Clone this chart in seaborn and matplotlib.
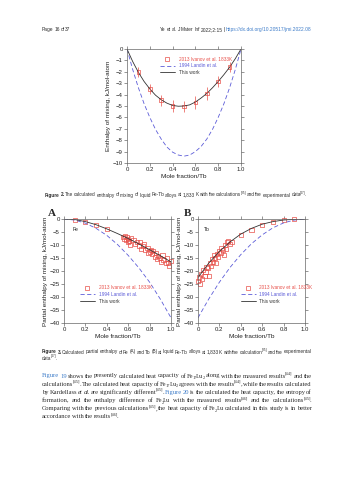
import matplotlib
matplotlib.use("Agg")
import matplotlib.pyplot as plt
import seaborn as sns
import pandas as pd
from matplotlib.lines import Line2D

# ---- Figure 2: enthalpy of mixing ----
mix_x = [0.0, 0.05, 0.1, 0.15, 0.2, 0.25, 0.3, 0.35, 0.4, 0.45, 0.5,
         0.55, 0.6, 0.65, 0.7, 0.75, 0.8, 0.85, 0.9, 0.95, 1.0]
mix_this = [0.0, -1.1, -2.05, -2.85, -3.5, -4.05, -4.45, -4.75, -4.95, -5.02, -5.0,
            -4.9, -4.65, -4.3, -3.9, -3.4, -2.85, -2.25, -1.6, -0.85, 0.0]
mix_landin = [0.0, -1.8, -3.4, -4.8, -6.0, -7.05, -7.9, -8.6, -9.05, -9.3, -9.4,
              -9.3, -9.0, -8.55, -7.9, -7.05, -6.0, -4.8, -3.4, -1.8, 0.0]
mix_exp_x = [0.1, 0.2, 0.3, 0.4, 0.5, 0.6, 0.7, 0.8, 0.9]
mix_exp_y = [-2.0, -3.5, -4.5, -5.0, -5.05, -4.7, -3.9, -2.85, -1.6]
mix_exp_err = [0.45, 0.45, 0.5, 0.5, 0.5, 0.55, 0.55, 0.5, 0.45]

# ---- Figure 3: partial enthalpies ----
part_x = [0.0, 0.1, 0.2, 0.3, 0.4, 0.5, 0.6, 0.7, 0.8, 0.9, 1.0]
fe_this = [0.0, -0.2, -1.0, -2.2, -3.8, -5.6, -7.5, -9.6, -11.8, -14.1, -16.5]
fe_landin = [0.0, -0.4, -1.6, -3.6, -6.3, -9.8, -14.0, -18.8, -24.3, -30.8, -38.0]
tb_this = [-22.5, -17.0, -12.5, -8.8, -5.8, -3.6, -2.0, -1.0, -0.4, -0.1, 0.0]
tb_landin = [-38.0, -30.8, -24.3, -18.6, -13.7, -9.5, -6.1, -3.4, -1.5, -0.4, 0.0]

fe_exp_x = [0.10, 0.20, 0.30, 0.40, 0.55, 0.56, 0.57, 0.58, 0.59, 0.60, 0.60, 0.61,
            0.62, 0.63, 0.65, 0.66, 0.68, 0.70, 0.71, 0.72, 0.74, 0.75, 0.76, 0.78,
            0.79, 0.80, 0.81, 0.82, 0.83, 0.85, 0.86, 0.87, 0.88, 0.90, 0.91, 0.92,
            0.93, 0.95, 0.96, 0.97, 0.98, 1.00]
fe_exp_y = [-0.4, -1.0, -2.4, -4.0, -6.8, -7.5, -6.5, -8.2, -7.0, -9.0, -7.8, -8.5,
            -10.0, -7.2, -8.0, -9.5, -8.8, -10.2, -9.0, -11.5, -10.5, -9.8, -12.0, -11.0,
            -13.0, -12.5, -11.8, -13.5, -12.2, -14.5, -13.0, -15.5, -14.2, -15.0, -16.5, -14.0,
            -15.8, -17.0, -15.2, -16.8, -18.0, -16.0]
tb_exp_x = [0.00, 0.01, 0.02, 0.03, 0.04, 0.05, 0.06, 0.07, 0.08, 0.09, 0.10, 0.11,
            0.12, 0.13, 0.14, 0.15, 0.16, 0.17, 0.18, 0.19, 0.20, 0.21, 0.22, 0.23,
            0.24, 0.25, 0.26, 0.27, 0.28, 0.30, 0.32, 0.40, 0.50, 0.60, 0.70, 0.80, 0.90]
tb_exp_y = [-24.0, -22.5, -25.0, -21.0, -23.0, -19.5, -22.0, -20.5, -18.5, -19.0, -22.0, -17.0,
            -18.0, -15.5, -16.5, -14.0, -15.0, -17.0, -13.5, -14.5, -12.5, -13.0, -11.0, -12.0,
            -14.0, -10.0, -11.5, -9.0, -8.5, -9.5, -8.8, -6.3, -4.2, -2.3, -1.2, -0.4, -0.1]

RED = "#e8504a"
BLUE = "#5c5cd8"
DARK = "#333333"
TXT = "#2e2e2e"
LINK = "#3d7cc9"

sns.set_theme(style="ticks")
plt.rcParams["font.family"] = ["Liberation Sans", "DejaVu Sans"]

fig = plt.figure(figsize=(3.53, 4.8), dpi=100)
fig.patch.set_facecolor("white")
W, H = 353.0, 480.0


def ax_box(left, top, right, bottom):
    return [left / W, 1 - bottom / H, (right - left) / W, (bottom - top) / H]


def style_ax(ax, xlabel, ylabel, yticks):
    ax.set_xlim(0, 1)
    ax.set_xticks([0, 0.2, 0.4, 0.6, 0.8, 1.0])
    ax.set_xticklabels(["0", "0.2", "0.4", "0.6", "0.8", "1.0"])
    ax.set_yticks(yticks)
    ax.set_ylim(min(yticks), max(yticks))
    ax.tick_params(axis="both", which="both", direction="out", length=2, width=0.4,
                   labelsize=4.3, pad=1, colors="#444444", labelcolor="#222222",
                   top=True, right=True, labeltop=False, labelright=False)
    for s in ax.spines.values():
        s.set_visible(True)
        s.set_linewidth(0.5)
        s.set_color("#666666")
    ax.set_xlabel(xlabel, fontsize=4.6, labelpad=1.5, color="#222222")
    ax.set_ylabel(ylabel, fontsize=4.6, labelpad=1.5, color="#222222")
    ax.set_facecolor("white")


def add_legend(ax, anchor):
    handles = [
        Line2D([], [], marker="s", markerfacecolor="none", markeredgecolor=RED,
               markersize=2.5, markeredgewidth=0.5, linestyle="none"),
        Line2D([], [], color=BLUE, linestyle=(0, (5, 3)), linewidth=0.6),
        Line2D([], [], color=DARK, linewidth=0.6),
    ]
    labels = ["2013 Ivanov et al. 1833K", "1994 Landin et al.", "This work"]
    ax.legend(handles, labels, loc="upper left", bbox_to_anchor=anchor, frameon=False,
              fontsize=3.4, handlelength=3.2, handletextpad=0.8, labelspacing=0.35,
              borderaxespad=0, labelcolor=[RED, BLUE, DARK])


# --- top chart ---
ax1 = fig.add_axes(ax_box(127, 49, 241, 163))
d_mix = pd.DataFrame({"x": mix_x, "this": mix_this, "landin": mix_landin})
sns.lineplot(data=d_mix, x="x", y="landin", ax=ax1, color=BLUE, linewidth=0.6,
             linestyle=(0, (5, 3)))
sns.lineplot(data=d_mix, x="x", y="this", ax=ax1, color=DARK, linewidth=0.6)
ax1.errorbar(mix_exp_x, mix_exp_y, yerr=mix_exp_err, fmt="none", ecolor=RED,
             elinewidth=0.5, capsize=0)
sns.scatterplot(x=mix_exp_x, y=mix_exp_y, ax=ax1, marker="s", s=7,
                facecolor="none", edgecolor=RED, linewidth=0.5)
style_ax(ax1, "Mole fraction/Tb", "Enthalpy of mixing, kJ/mol-atom", list(range(-10, 1)))
add_legend(ax1, (0.27, 0.95))

# --- panel A ---
axA = fig.add_axes(ax_box(64, 219, 171, 323))
d_fe = pd.DataFrame({"x": part_x, "this": fe_this, "landin": fe_landin})
sns.lineplot(data=d_fe, x="x", y="landin", ax=axA, color=BLUE, linewidth=0.6,
             linestyle=(0, (5, 3)))
sns.lineplot(data=d_fe, x="x", y="this", ax=axA, color=DARK, linewidth=0.6)
sns.scatterplot(x=fe_exp_x, y=fe_exp_y, ax=axA, marker="s", s=9,
                facecolor="none", edgecolor=RED, linewidth=0.5, clip_on=False)
style_ax(axA, "Mole fraction/Tb", "Partial enthalpy of mixing, kJ/mol-atom",
         list(range(-40, 1, 5)))
axA.text(0.08, -4.5, "Fe", fontsize=3.6, color="#222222")
add_legend(axA, (0.13, 0.38))

# --- panel B ---
axB = fig.add_axes(ax_box(198, 219, 305, 323))
d_tb = pd.DataFrame({"x": part_x, "this": tb_this, "landin": tb_landin})
sns.lineplot(data=d_tb, x="x", y="landin", ax=axB, color=BLUE, linewidth=0.6,
             linestyle=(0, (5, 3)))
sns.lineplot(data=d_tb, x="x", y="this", ax=axB, color=DARK, linewidth=0.6)
sns.scatterplot(x=tb_exp_x, y=tb_exp_y, ax=axB, marker="s", s=9,
                facecolor="none", edgecolor=RED, linewidth=0.5, clip_on=False)
style_ax(axB, "Mole fraction/Tb", "Partial enthalpy of mixing, kJ/mol-atom",
         list(range(-40, 1, 5)))
axB.text(0.06, -4.5, "Tb", fontsize=3.6, color="#222222")
add_legend(axB, (0.38, 0.38))

fig.text(52 / W, 1 - 214 / H, "A", fontsize=8, fontweight="bold",
         family="Liberation Serif", va="center", ha="center")
fig.text(187 / W, 1 - 214 / H, "B", fontsize=8, fontweight="bold",
         family="Liberation Serif", va="center", ha="center")

# ---- page text (runs placed word by word) ----
renderer = fig.canvas.get_renderer()
PX = 100 / 72.0
TRIM = 1.0  # measured extents run about 1 px wider than the drawn ink


def w(s, **st):
    return [(s, st)]


def words_of(s, **st):
    return [w(x, **st) for x in s.split(" ")]


def sup(base, ref, **st):
    return [(base, st), (ref, dict(st, sup=True))]


def make_runs(words, size, family):
    out = []
    for word in words:
        items = []
        for s, st in word:
            small = st.get("sup") or st.get("sub")
            sz = size * 0.68 if small else size
            dy = size * 0.45 * PX if st.get("sup") else (-size * 0.22 * PX if st.get("sub") else 0)
            t = fig.text(0, 0, s, fontsize=sz, color=st.get("color", TXT),
                         fontweight=st.get("weight", "normal"),
                         fontstyle=st.get("style", "normal"),
                         family=family, va="baseline", ha="left")
            width = max(0.6, t.get_window_extent(renderer).width - TRIM)
            items.append([t, width, dy])
        out.append(items)
    return out


def space_px(size, family):
    a = fig.text(0, 0, "x x", fontsize=size, family=family)
    b = fig.text(0, 0, "xx", fontsize=size, family=family)
    s = a.get_window_extent(renderer).width - b.get_window_extent(renderer).width
    a.remove()
    b.remove()
    return s


def natural_width(words, size, family):
    runs = make_runs(words, size, family)
    total = sum(sum(it[1] + 0.3 for it in wd) for wd in runs)
    for wd in runs:
        for it in wd:
            it[0].remove()
    return total + space_px(size, family) * (len(words) - 1)


def fit_size(words, size, family, target):
    return size * target / natural_width(words, size, family)


def place(words, x0, y, x1=None, size=4.0, family="Liberation Serif"):
    runs = make_runs(words, size, family)
    widths = [sum(it[1] + 0.3 for it in wd) for wd in runs]
    sp = space_px(size, family)
    gap = sp
    if x1 is not None and len(runs) > 1:
        gap = max(sp * 0.6, (x1 - x0 - sum(widths)) / (len(runs) - 1))
    x = x0
    for wd, ww in zip(runs, widths):
        xx = x
        for t, tw, dy in wd:
            t.set_position((xx / W, 1 - y / H + dy / H))
            xx += tw + 0.3
        x += ww + gap


SANS = "Liberation Sans"
SERIF = "Liberation Serif"

# header
hdr = [w("Ye"), w("et"), w("al."), w("J"), w("Mater"), w("Inf"), w("2022;2:15"), w("|"),
       w("https://dx.doi.org/10.20517/jmi.2022.08", color=LINK)]
hs = fit_size(hdr, 3.4, SANS, 311 - 160)
place(hdr, 160, 31, x1=311, size=hs, family=SANS)
place(words_of("Page 16 of 37"), 42, 31, size=hs, family=SANS)

# figure 2 caption
cap2 = (words_of("Figure 2.", weight="bold")
        + words_of("The calculated enthalpy of mixing of liquid Fe-Tb alloys at 1,833 K with the")
        + [sup("calculations", "[35]")] + words_of("and the experimental")
        + [sup("data", "[47]") + [(".", {})]])
cs = fit_size(cap2, 3.4, SANS, 305 - 45)
place(cap2, 45, 196.5, size=cs, family=SANS)

# figure 3 caption
cap3 = (words_of("Figure 3.", weight="bold")
        + words_of("Calculated partial enthalpy of Fe (A) and Tb (B) at liquid Fe-Tb alloys at 1,833 K with the")
        + [sup("calculation", "[35]")] + words_of("and the experimental"))
place(cap3, 42, 353.5, x1=311, size=cs, family=SANS)
place([sup("data", "[47]") + [(".", {})]], 42, 359.5, size=cs, family=SANS)

# body paragraph
L = dict(color=LINK)
body = [
    [w("Figure", **L), w("19", **L)] + words_of("shows the presently calculated heat capacity of")
    + [[("Fe", {}), ("17", {"sub": True}), ("Lu", {}), ("2", {"sub": True})]]
    + words_of("along with the measured") + [sup("results", "[44]")] + words_of("and the"),
    [sup("calculations", "[45]") + [(".", {})]] + words_of("The calculated heat capacity of")
    + [[("Fe", {}), ("17", {"sub": True}), ("Lu", {}), ("2", {"sub": True})]]
    + words_of("agrees with the") + [sup("results", "[44]") + [(",", {})]]
    + words_of("while the results calculated"),
    words_of("by Kardellass") + [w("et", style="italic"), w("al.", style="italic")]
    + words_of("are significantly") + [sup("different", "[45]") + [(".", {})]]
    + [w("Figure", **L), w("20", **L)]
    + words_of("is the calculated the heat capacity, the entropy of"),
    words_of("formation, and the enthalpy difference of")
    + [[("Fe", {}), ("2", {"sub": True}), ("Lu", {})]]
    + words_of("with the measured") + [sup("results", "[46]")] + words_of("and the")
    + [sup("calculations", "[45]") + [(".", {})]],
    words_of("Comparing with the previous") + [sup("calculations", "[45]") + [(",", {})]]
    + words_of("the heat capacity of") + [[("Fe", {}), ("2", {"sub": True}), ("Lu", {})]]
    + words_of("calculated in this study is in better"),
]
BS = 4.7
for i, line in enumerate(body):
    place(line, 42, 377.5 + i * 8.2, x1=311, size=BS, family=SERIF)
place(words_of("accordance with the") + [sup("results", "[46]") + [(".", {})]],
      42, 377.5 + 5 * 8.2, size=BS, family=SERIF)

fig.savefig("out.png", dpi=100, facecolor="white")
